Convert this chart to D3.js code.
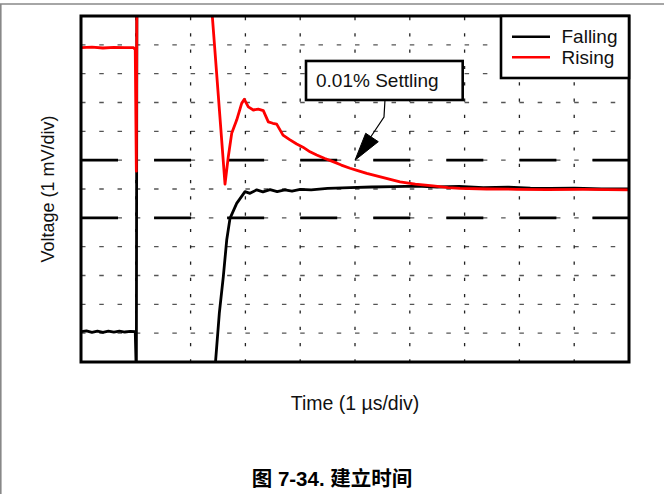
<!DOCTYPE html>
<html><head><meta charset="utf-8">
<script src="https://cdn.jsdelivr.net/npm/d3@7"></script>
<style>
html,body{margin:0;padding:0;background:#fff;}
svg{display:block;}
</style></head>
<body>
<script>
// ---- data (x: µs from left edge, y: mV relative to final value) ----
const seriesNames = ["Falling", "Rising"];
const seriesColors = ["#000000", "#ff0000"];
const fallingData = [
  [0,-4.95],[0.1,-4.92],[0.2,-4.97],[0.3,-4.93],[0.4,-4.97],[0.5,-4.93],[0.6,-4.96],[0.7,-4.93],
  [0.8,-4.96],[0.9,-4.94],[0.99,-4.95],[1.01,-6.5],[1.02,7.0],[1.5,null],
  [2.436,-6.45],[2.524,-4.31],[2.597,-3.04],[2.659,-1.77],[2.719,-1.02],[2.841,-0.50],[2.993,-0.09],
  [3.084,-0.15],[3.206,-0.03],[3.32,-0.10],[3.45,-0.02],[3.58,-0.09],[3.72,-0.03],[3.85,-0.07],
  [4.0,-0.01],[4.2,-0.03],[4.5,0.02],[4.91,0.045],[5.3,0.07],[5.7,0.08],[6.13,0.10],[6.5,0.07],
  [6.9,0.09],[7.34,0.045],[7.8,0.06],[8.2,0.03],[8.56,0.02],[9.0,0.03],[9.5,0.0],[10,0.0]
];
const risingData = [
  [0,4.90],[0.2,4.92],[0.4,4.89],[0.6,4.91],[0.8,4.90],[0.96,4.90],[0.99,4.84],[1.01,0.62],[1.02,7.0],
  [2.38,6.4],[2.628,0.17],[2.688,1.12],[2.75,1.93],[2.841,2.39],[2.932,2.97],[2.98,3.11],[3.053,2.85],
  [3.144,2.74],[3.235,2.77],[3.327,2.72],[3.418,2.33],[3.50,2.28],[3.571,2.25],[3.686,1.87],[3.80,1.72],
  [3.936,1.56],[4.05,1.45],[4.179,1.29],[4.301,1.18],[4.45,1.06],[4.599,0.95],[4.75,0.83],[4.909,0.72],
  [5.05,0.64],[5.214,0.54],[5.5,0.40],[5.821,0.25],[6.1,0.17],[6.423,0.11],[6.7,0.05],[6.916,0.02],
  [7.4,0.0],[7.95,-0.01],[8.5,-0.02],[9.16,-0.01],[9.6,-0.02],[10,-0.03]
];
const xGridValues = [1,2,3,4,5,6,7,8,9];
const yGridValues = [-5,-4,-3,-2,-1,0,1,2,3,4,5];
const bandValues = [-1, 1];
const annotationText = "0.01% Settling";
const annotationBox = [[4.106,4.44],[6.965,3.087]];
const annotationLine = [[5.547,3.087],[5.529,2.497],[5.274,1.769]];
const annotationHead = [[5.195,1.932],[5.425,1.641],[5.0,1.0]];
const xLabel = "Time (1 µs/div)";
const yLabel = "Voltage (1 mV/div)";
const titleText = "图 7-34. 建立时间";

// ---- layout ----
const W = 664, H = 494;
const L = 81, R = 629, T = 16, B = 362;
const font = "'Liberation Sans', Arial, Helvetica, sans-serif";

const svg = d3.select("body").append("svg").attr("width", W).attr("height", H);

// page frame lines
svg.append("line").attr("x1",0).attr("x2",W).attr("y1",4).attr("y2",4)
  .attr("stroke","#888").attr("stroke-width",1.6);
svg.append("line").attr("x1",0.8).attr("x2",0.8).attr("y1",4).attr("y2",H)
  .attr("stroke","#888").attr("stroke-width",1.6);

const x = d3.scaleLinear().domain([0,10]).range([L,R]);
const y = d3.scaleLinear().domain([-6,6]).range([B,T]);
const divX = x(1)-x(0);

svg.append("defs").append("clipPath").attr("id","clip")
  .append("rect").attr("x",L).attr("y",T).attr("width",R-L).attr("height",B-T);

// fine grid
svg.append("g").selectAll("line").data(yGridValues).join("line")
  .attr("x1",L).attr("x2",R).attr("y1",d=>y(d)).attr("y2",d=>y(d))
  .attr("stroke","#555").attr("stroke-width",1.3)
  .attr("stroke-dasharray",`4.5,${divX/3-4.5}`);
svg.append("g").selectAll("line").data(xGridValues).join("line")
  .attr("x1",d=>x(d)).attr("x2",d=>x(d)).attr("y1",T).attr("y2",B)
  .attr("stroke","#222").attr("stroke-width",1.3)
  .attr("stroke-dasharray","3.2,13.1").attr("stroke-dashoffset",-1);

// error band heavy dashes
svg.append("g").selectAll("line").data(bandValues).join("line")
  .attr("x1",L).attr("x2",R).attr("y1",d=>y(d)).attr("y2",d=>y(d))
  .attr("stroke","#000").attr("stroke-width",2.6)
  .attr("stroke-dasharray",`37,${divX*4/3-37}`);

// traces
const line = d3.line().defined(d=>d[1]!==null).x(d=>x(d[0])).y(d=>y(d[1]));
const traces = svg.append("g").attr("clip-path","url(#clip)");
[fallingData, risingData].forEach((data,i)=>{
  traces.append("path").attr("d",line(data)).attr("fill","none")
    .attr("stroke",seriesColors[i]).attr("stroke-width",2.8)
    .attr("stroke-linejoin","round");
});

// annotation
const ab = annotationBox;
svg.append("rect").attr("x",x(ab[0][0])).attr("y",y(ab[0][1]))
  .attr("width",x(ab[1][0])-x(ab[0][0])).attr("height",y(ab[1][1])-y(ab[0][1]))
  .attr("fill","#fff").attr("stroke","#000").attr("stroke-width",2.6);
svg.append("text").attr("x",x(ab[0][0])+10).attr("y",y(ab[1][1])-12.5)
  .attr("font-family",font).attr("font-size",19).attr("fill","#111").text(annotationText);
svg.append("path").attr("d",d3.line().x(d=>x(d[0])).y(d=>y(d[1]))(annotationLine))
  .attr("fill","none").attr("stroke","#000").attr("stroke-width",1.2);
svg.append("path").attr("d",d3.line().x(d=>x(d[0])).y(d=>y(d[1]))(annotationHead)+"Z")
  .attr("fill","#000").attr("stroke","#000").attr("stroke-width",1);

// frame
svg.append("rect").attr("x",L).attr("y",T).attr("width",R-L).attr("height",B-T)
  .attr("fill","none").attr("stroke","#000").attr("stroke-width",3);

// legend
const lg = svg.append("g");
lg.append("rect").attr("x",501).attr("y",T).attr("width",R-501).attr("height",62)
  .attr("fill","#fff").attr("stroke","#000").attr("stroke-width",2.6);
seriesNames.forEach((n,i)=>{
  const yy = 36.7 + i*20.6;
  lg.append("line").attr("x1",512).attr("x2",550).attr("y1",yy).attr("y2",yy)
    .attr("stroke",seriesColors[i]).attr("stroke-width",2.6);
  lg.append("text").attr("x",561.5).attr("y",yy+6.7)
    .attr("font-family",font).attr("font-size",19).attr("fill","#111").text(n);
});

// axis labels
svg.append("text").attr("x",(L+R)/2).attr("y",410).attr("text-anchor","middle")
  .attr("font-family",font).attr("font-size",19.5).attr("fill","#111").text(xLabel);
svg.append("text").attr("transform",`translate(54,${(T+B)/2}) rotate(-90)`)
  .attr("text-anchor","middle")
  .attr("font-family",font).attr("font-size",18).attr("fill","#111").text(yLabel);

// title
svg.append("text").attr("x",W/2).attr("y",486).attr("text-anchor","middle")
  .attr("font-family","'Liberation Sans', 'Noto Sans CJK SC', sans-serif")
  .attr("font-weight","bold").attr("font-size",20.5).attr("fill","#000").text(titleText);
</script>
</body></html>
